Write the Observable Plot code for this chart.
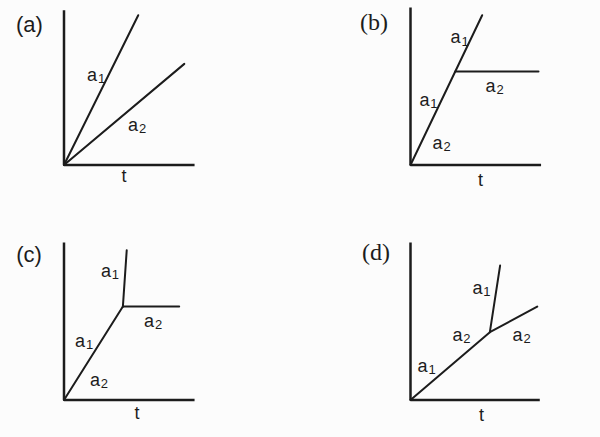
<!DOCTYPE html>
<html>
<head>
<meta charset="utf-8">
<script src="https://cdn.jsdelivr.net/npm/d3@7"></script>
<script src="https://cdn.jsdelivr.net/npm/@observablehq/plot@0.6"></script>
<style>
  html, body { margin: 0; padding: 0; background: #fcfcfc; }
  #chart svg { display: block; }
</style>
</head>
<body>
<div id="chart"></div>
<script>
// Panels, in reading order: (a) (b) top row, (c) (d) bottom row
const panels = ["(a)", "(b)", "(c)", "(d)"];

// Axis extents per panel (t along x, velocity along y), in panel units
const axisTEnd = [10.2, 10.2, 10.2, 10.1];
const axisVEnd = [12.1, 12.3, 12.3, 12.3];

// Graph lines: panel index, t-points, v-points
const pathPanel = [0, 0, 1, 1, 2, 2, 2, 3, 3];
const pathT = [
  [0, 5.8], [0, 9.4],
  [0, 5.6], [3.5, 10.0],
  [0, 4.6], [4.6, 4.9], [4.6, 9.0],
  [0, 6.2, 9.9], [6.2, 7.0]
];
const pathV = [
  [0, 11.7], [0, 7.9],
  [0, 11.7], [7.3, 7.3],
  [0, 7.3], [7.3, 11.7], [7.3, 7.3],
  [0, 5.3, 7.3], [5.3, 10.5]
];

// Curve labels a1 / a2
const labelPanel = [0, 0, 1, 1, 1, 1, 2, 2, 2, 2, 3, 3, 3, 3];
const labelSub   = ["1", "2", "1", "1", "2", "2", "1", "2", "1", "2", "1", "2", "2", "1"];
const labelT = [2.19, 5.39, 3.52, 1.09, 2.11, 6.25, 3.28, 6.64, 1.25, 2.42, 5.23, 3.67, 8.36, 0.94];
const labelV = [7.03, 3.13, 9.96, 5.08, 1.72, 6.17, 10.08, 6.17, 4.61, 1.56, 8.75, 5.08, 5.08, 2.66];

// "t" axis labels
const tLabelT = [4.69, 5.47, 5.70, 5.55];
const tLabelV = [-0.86, -1.17, -1.02, -1.17];

// Panel tags
const tagT = [-2.70, -2.85, -2.73, -2.70];
const tagV = [10.98, 11.13, 11.37, 11.52];

// ---- build tables ----
const col = i => i % 2, row = i => Math.floor(i / 2);

const axisData = panels.flatMap((p, i) => [
  {id: "ax" + i, t: 0, v: axisVEnd[i], col: col(i), row: row(i)},
  {id: "ax" + i, t: 0, v: 0, col: col(i), row: row(i)},
  {id: "ax" + i, t: axisTEnd[i], v: 0, col: col(i), row: row(i)}
]);

const lineData = pathPanel.flatMap((pi, k) =>
  pathT[k].map((t, j) => ({id: "p" + k, t, v: pathV[k][j], col: col(pi), row: row(pi)}))
);

const labels = labelPanel.map((pi, k) => ({
  name: "a", sub: labelSub[k], t: labelT[k], v: labelV[k], col: col(pi), row: row(pi)
}));

const tLabels = panels.map((p, i) => ({text: "t", t: tLabelT[i], v: tLabelV[i], col: col(i), row: row(i)}));
const tags = panels.map((p, i) => ({text: p, t: tagT[i], v: tagV[i], col: col(i), row: row(i)}));

const ink = "#1c1c1c";
const sans = "'Liberation Sans', Arial, Helvetica, sans-serif";
const serif = "'Liberation Serif', 'Times New Roman', serif";

const chart = Plot.plot({
  width: 600,
  height: 437,
  marginTop: 0, marginRight: 0, marginBottom: 0, marginLeft: 0,
  style: {background: "#fcfcfc", fontFamily: sans, color: ink},
  fx: {domain: [0, 1], paddingInner: 0.2684, paddingOuter: 0, round: false, axis: null},
  fy: {domain: [0, 1], paddingInner: 0.1404, paddingOuter: 0, round: false, axis: null},
  x: {domain: [-4.961, 14.844], axis: null},
  y: {domain: [-2.930, 12.852], axis: null},
  marks: [
    Plot.line(axisData, {x: "t", y: "v", z: "id", fx: "col", fy: "row", stroke: ink, strokeWidth: 2.5, strokeLinejoin: "miter", strokeLinecap: "butt"}),
    Plot.line(lineData, {x: "t", y: "v", z: "id", fx: "col", fy: "row", stroke: ink, strokeWidth: 2, strokeLinejoin: "round"}),
    Plot.text(labels, {x: "t", y: "v", text: "name", fx: "col", fy: "row", fontSize: 18, fill: ink, fontFamily: sans}),
    Plot.text(labels, {x: "t", y: "v", text: "sub", fx: "col", fy: "row", fontSize: 13, dx: 9.5, dy: 4, fill: ink, fontFamily: sans}),
    Plot.text(tLabels, {x: "t", y: "v", text: "text", fx: "col", fy: "row", fontSize: 18, fill: ink, fontFamily: sans}),
    Plot.text(tags, {filter: d => d.col === 0, x: "t", y: "v", text: "text", fx: "col", fy: "row", fontSize: 22, fill: ink, fontFamily: sans}),
    Plot.text(tags, {filter: d => d.col === 1, x: "t", y: "v", text: "text", fx: "col", fy: "row", fontSize: 24, fill: ink, fontFamily: serif})
  ]
});

document.getElementById("chart").appendChild(chart);
</script>
</body>
</html>
